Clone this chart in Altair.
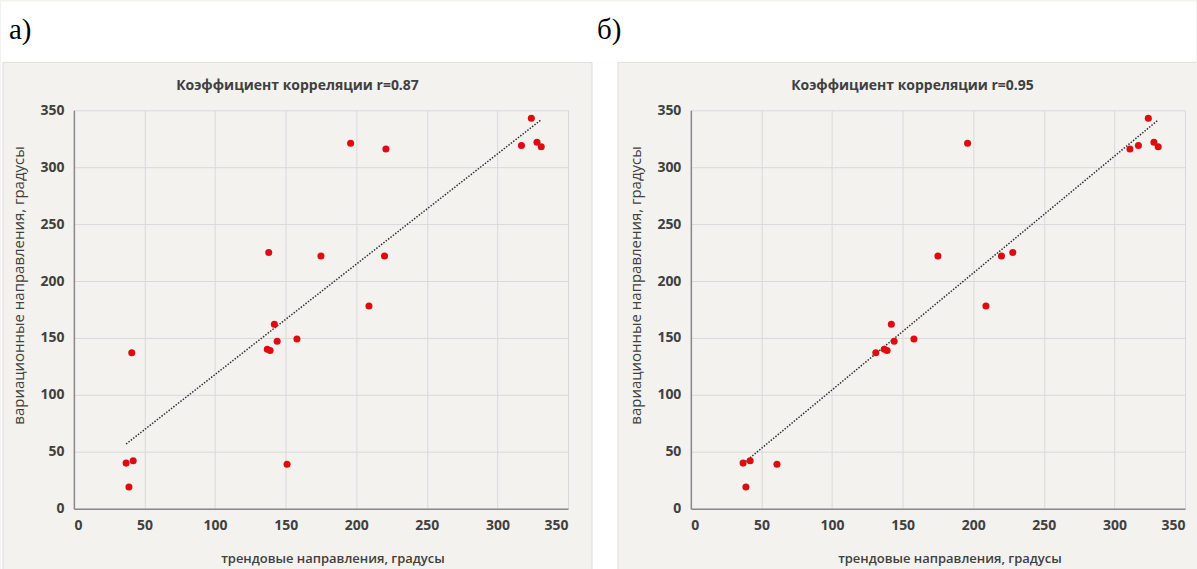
import altair as alt
import pandas as pd

# panel a) data
xa = [37, 39, 42, 41, 137, 139, 138, 142, 144, 158, 151, 175, 196, 209, 220, 221, 317, 324, 328, 331]
ya = [40, 19, 42, 137, 140, 139, 225, 162, 147, 149, 39, 222, 321, 178, 222, 316, 319, 343, 322, 318]
# panel b) data
xb = [37, 39, 42, 61, 131, 137, 139, 142, 144, 158, 175, 196, 209, 220, 228, 311, 317, 324, 328, 331]
yb = [40, 19, 42, 39, 137, 140, 139, 162, 147, 149, 222, 321, 178, 222, 225, 316, 319, 343, 322, 318]

ticks = [0, 50, 100, 150, 200, 250, 300, 350]
titles = ["Коэффициент корреляции r=0.87", "Коэффициент корреляции r=0.95"]
x_title = "трендовые направления, градусы"
y_title = "вариационные направления, градусы"
panel_labels = ["а)", "б)"]

BG = "#f3f2ee"
FONT = "Open Sans"
W, H = 495, 399

one = pd.DataFrame({"d": [0]})
deco = alt.Chart(one)


def panel(xs, ys, title, title_x, extras):
    df = pd.DataFrame({"x": xs, "y": ys})
    xenc = alt.X("x:Q", scale=alt.Scale(domain=[0, 350], nice=False, zero=False),
                 axis=alt.Axis(values=ticks, title=x_title, titleX=259, titleY=50,
                               titleAlign="center", titleBaseline="middle",
                               titleFontWeight=600, titleFontSize=13))
    yenc = alt.Y("y:Q", scale=alt.Scale(domain=[0, 350], nice=False, zero=False),
                 axis=alt.Axis(values=ticks, title=y_title, titleX=-55, titleY=175,
                               titleAngle=270, titleAlign="center", titleBaseline="middle",
                               titleFontWeight="normal", titleFontSize=15))
    base = alt.Chart(df)
    trend = base.transform_regression("x", "y").mark_line(
        color="#333333", strokeWidth=1.5, strokeDash=[1.5, 1.5]
    ).encode(x=xenc, y=yenc)
    pts = base.mark_circle(size=50, color="#e00b10", opacity=1).encode(x=xenc, y=yenc)
    ttl = deco.mark_text(font=FONT, fontSize=14, fontWeight="bold", color="#404040",
                         align="center", baseline="middle").encode(
        x=alt.value(title_x), y=alt.value(-24), text=alt.value(title))
    layers = extras + [ttl, trend, pts]
    return alt.layer(*layers).properties(width=W, height=H)


# white areas outside the two panel boxes
strip_top = deco.mark_rect(color="white").encode(
    x=alt.value(-73), x2=alt.value(1124), y=alt.value(-109), y2=alt.value(-48))
strip_gap = deco.mark_rect(color="white").encode(
    x=alt.value(519), x2=alt.value(545), y=alt.value(-48), y2=alt.value(460))
strip_left = deco.mark_rect(color="white").encode(
    x=alt.value(-73), x2=alt.value(-71), y=alt.value(-48), y2=alt.value(460))
edge_col = "#dedede"
edges = [
    deco.mark_rule(color=edge_col, strokeWidth=1).encode(
        x=alt.value(-71), x2=alt.value(519), y=alt.value(-48), y2=alt.value(-48)),
    deco.mark_rule(color=edge_col, strokeWidth=1).encode(
        x=alt.value(-71), x2=alt.value(-71), y=alt.value(-48), y2=alt.value(460)),
    deco.mark_rule(color=edge_col, strokeWidth=1).encode(
        x=alt.value(519), x2=alt.value(519), y=alt.value(-48), y2=alt.value(460)),
    deco.mark_rule(color=edge_col, strokeWidth=1).encode(
        x=alt.value(545), x2=alt.value(1124), y=alt.value(-48), y2=alt.value(-48)),
    deco.mark_rule(color=edge_col, strokeWidth=1).encode(
        x=alt.value(545), x2=alt.value(545), y=alt.value(-48), y2=alt.value(460)),
]
lab_a = deco.mark_text(font="Liberation Serif", fontSize=29, align="left",
                       baseline="middle", color="black").encode(
    x=alt.value(-65), y=alt.value(-80), text=alt.value(panel_labels[0]))
lab_b = deco.mark_text(font="Liberation Serif", fontSize=29, align="left",
                       baseline="middle", color="black").encode(
    x=alt.value(524), y=alt.value(-80), text=alt.value(panel_labels[1]))

chart_a = panel(xa, ya, titles[0], 224,
                [strip_top, strip_gap, strip_left] + edges + [lab_a, lab_b])
chart_b = panel(xb, yb, titles[1], 222, [])

chart = alt.hconcat(chart_a, chart_b, spacing=123, bounds="flush").properties(
    background=BG, padding=0
).configure_view(stroke="transparent").configure_axis(
    grid=True, gridColor="#d9d9d9", gridWidth=1,
    domainColor="#8a8a8a", domainWidth=1.5,
    ticks=False, labelFont=FONT, labelFontSize=14, labelFontWeight="bold",
    labelColor="#404040", labelPadding=10,
    titleFont=FONT, titleColor="#404040",
)

chart.save("out.html", embed_options={"renderer": "svg", "actions": False})
